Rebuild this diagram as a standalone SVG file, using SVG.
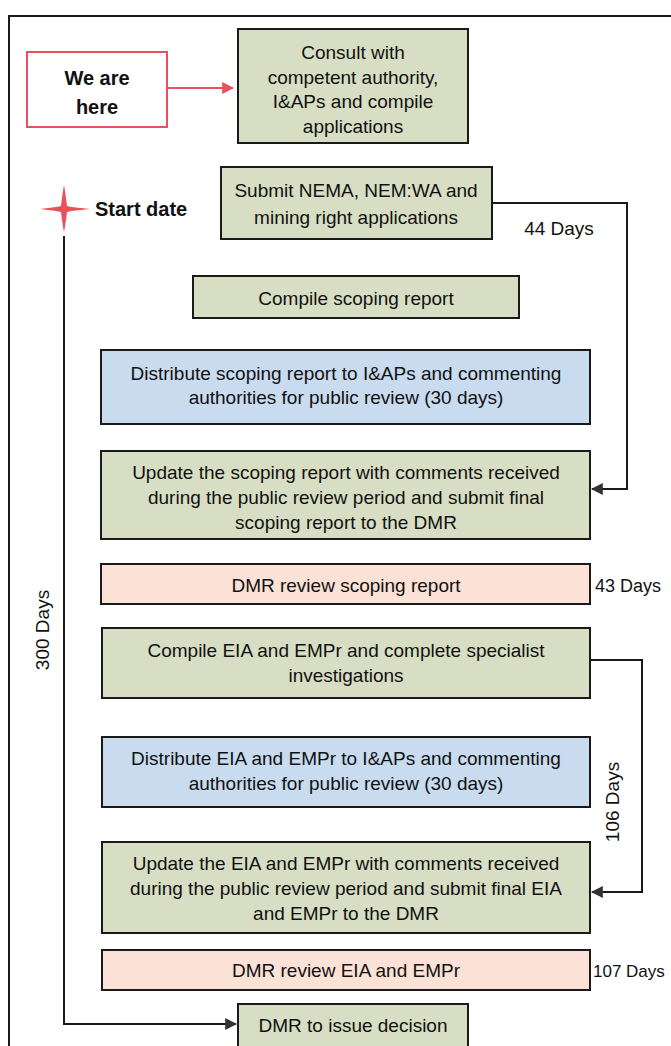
<svg xmlns="http://www.w3.org/2000/svg" width="671" height="1046" viewBox="0 0 671 1046">
<style>
.g{fill:#d8dec3;stroke:#1a1a1a;stroke-width:2}
.b{fill:#c8dbef;stroke:#1a1a1a;stroke-width:2}
.p{fill:#fbe1d6;stroke:#1a1a1a;stroke-width:2}
text{font-family:"Liberation Sans",Arial,sans-serif;font-size:19px;fill:#111;text-anchor:middle}
.bold{font-weight:bold;font-size:20px}
.lbl{text-anchor:start}
.con{fill:none;stroke:#1a1a1a;stroke-width:2}
</style>
<defs>
<marker id="ah" viewBox="0 0 10 10" refX="9" refY="5" markerWidth="6" markerHeight="6" orient="auto" markerUnits="strokeWidth">
<path d="M0,0 L10,5 L0,10 z" fill="#333"/>
</marker>
<marker id="ahr" viewBox="0 0 10 10" refX="9" refY="5" markerWidth="6" markerHeight="6" orient="auto" markerUnits="strokeWidth">
<path d="M0,0 L10,5 L0,10 z" fill="#e8505b"/>
</marker>
</defs>
<rect width="671" height="1046" fill="#ffffff"/>
<path d="M9,1046 V16 H671" fill="none" stroke="#1a1a1a" stroke-width="2"/>

<g id="connectors">
<path d="M167,88 H233" fill="none" stroke="#e8505b" stroke-width="2" marker-end="url(#ahr)"/>
<path class="con" d="M492,203 H627 V489 H592" marker-end="url(#ah)"/>
<path class="con" d="M590,660 H642 V892 H592" marker-end="url(#ah)"/>
<path class="con" d="M64,236 V1024 H236" marker-end="url(#ah)"/>
</g>

<g id="we-are-here">
<rect x="27" y="52" width="140" height="75" fill="#ffffff" stroke="#e8505b" stroke-width="2"/>
<text class="bold" x="97" y="85">We are</text>
<text class="bold" x="97" y="114">here</text>
</g>

<g id="consult">
<rect class="g" x="238" y="29" width="230" height="114"/>
<text x="353" y="59">Consult with</text>
<text x="353" y="84">competent authority,</text>
<text x="353" y="108">I&amp;APs and compile</text>
<text x="353" y="133">applications</text>
</g>

<g id="start-date">
<path d="M40,209 Q58,207 61,206 Q63,190 64,185 Q65,190 67,206 Q70,207 90,209 Q70,211 67,212 Q65,228 64,232 Q63,228 61,212 Q58,211 40,209 Z" fill="#e8505b"/>
<text class="bold lbl" x="95" y="216">Start date</text>
</g>

<g id="submit">
<rect class="g" x="221" y="167" width="271" height="72"/>
<text x="356" y="197">Submit NEMA, NEM:WA and</text>
<text x="356" y="224">mining right applications</text>
</g>
<text x="559" y="235">44 Days</text>

<g id="compile-scoping">
<rect class="g" x="193" y="276" width="326" height="42"/>
<text x="356" y="305">Compile scoping report</text>
</g>

<g id="distribute-scoping">
<rect class="b" x="101" y="350" width="489" height="74"/>
<text x="346" y="380">Distribute scoping report to I&amp;APs and commenting</text>
<text x="346" y="404">authorities for public review (30 days)</text>
</g>

<g id="update-scoping">
<rect class="g" x="101" y="451" width="489" height="88"/>
<text x="346" y="479">Update the scoping report with comments received</text>
<text x="346" y="504">during the public review period and submit final</text>
<text x="346" y="529">scoping report to the DMR</text>
</g>

<g id="dmr-review-scoping">
<rect class="p" x="101" y="564" width="489" height="40"/>
<text x="346" y="592">DMR review scoping report</text>
</g>
<text class="lbl" x="595" y="592" style="font-size:18px">43 Days</text>

<text x="0" y="0" transform="translate(49,630) rotate(-90)">300 Days</text>

<g id="compile-eia">
<rect class="g" x="102" y="628" width="488" height="70"/>
<text x="346" y="657">Compile EIA and EMPr and complete specialist</text>
<text x="346" y="682">investigations</text>
</g>

<g id="distribute-eia">
<rect class="b" x="102" y="737" width="488" height="70"/>
<text x="346" y="765">Distribute EIA and EMPr to I&amp;APs and commenting</text>
<text x="346" y="790">authorities for public review (30 days)</text>
</g>
<text x="0" y="0" transform="translate(619,802) rotate(-90)">106 Days</text>

<g id="update-eia">
<rect class="g" x="102" y="842" width="488" height="91"/>
<text x="346" y="870">Update the EIA and EMPr with comments received</text>
<text x="346" y="895">during the public review period and submit final EIA</text>
<text x="346" y="920">and EMPr to the DMR</text>
</g>

<g id="dmr-review-eia">
<rect class="p" x="102" y="950" width="488" height="40"/>
<text x="346" y="977">DMR review EIA and EMPr</text>
</g>
<text class="lbl" x="593" y="977" style="font-size:17px">107 Days</text>

<g id="dmr-decision">
<rect class="g" x="238" y="1004" width="230" height="50"/>
<text x="353" y="1032">DMR to issue decision</text>
</g>
</svg>
